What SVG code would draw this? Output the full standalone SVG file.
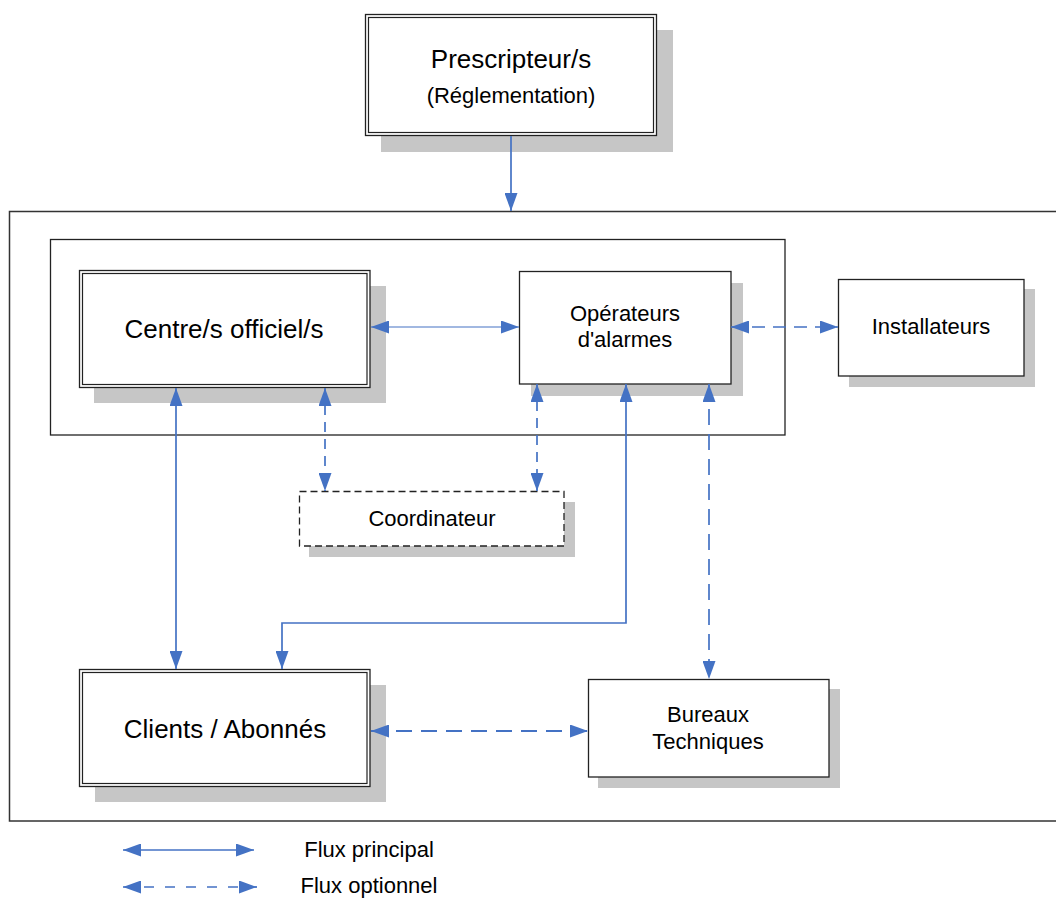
<svg xmlns="http://www.w3.org/2000/svg" width="1056" height="898" viewBox="0 0 1056 898">
<style>
  text { font-family: "Liberation Sans", Arial, sans-serif; fill: #000; text-anchor: middle; }
  .shadow { fill: #c6c6c6; stroke: none; }
  .box { fill: #fff; stroke: #222; stroke-width: 1.3; }
  .frame { fill: none; stroke: #222; stroke-width: 1.3; }
  .dbl { fill: none; stroke: #222; stroke-width: 1.2; }
  .conn { fill: none; stroke: #4472C4; stroke-width: 1.7; }
  .thin { stroke-width: 1.2; }
  .dash { stroke-dasharray: 10 7; }
  .dashL { stroke-dasharray: 16 9; }
  .dash2 { stroke-dasharray: 16 9; stroke-width: 2.2; }
  .t26 { font-size: 26px; }
  .t22 { font-size: 22px; }
</style>
<defs>
  <marker id="ae" markerUnits="userSpaceOnUse" markerWidth="18" markerHeight="13" refX="18" refY="6.5" orient="auto">
    <path d="M0,0 L18,6.5 L0,13 Z" fill="#4472C4"/>
  </marker>
  <marker id="as" markerUnits="userSpaceOnUse" markerWidth="18" markerHeight="13" refX="0" refY="6.5" orient="auto">
    <path d="M18,0 L0,6.5 L18,13 Z" fill="#4472C4"/>
  </marker>
</defs>

<g id="frames">
  <rect x="9.5" y="211.5" width="1070" height="609.5" fill="none" stroke="#333" stroke-width="1.5"/>
  <rect class="frame" x="50.5" y="239.5" width="734.5" height="195.5"/>
</g>

<g id="prescripteur">
  <rect class="shadow" x="381" y="30" width="292" height="122"/>
  <rect class="box" x="365.5" y="14.5" width="291" height="121"/>
  <rect class="dbl" x="368.5" y="17.5" width="285" height="115"/>
  <text class="t26" x="511" y="68">Prescripteur/s</text>
  <text class="t22" x="511" y="103">(Réglementation)</text>
</g>

<g id="centre">
  <rect class="shadow" x="94" y="286" width="292" height="117"/>
  <rect class="box" x="79.5" y="270.5" width="290.5" height="117"/>
  <rect class="dbl" x="82.5" y="273.5" width="284.5" height="111"/>
  <text class="t26" x="224" y="338">Centre/s officiel/s</text>
</g>

<g id="operateurs">
  <rect class="shadow" x="531" y="283" width="212" height="113"/>
  <rect class="box" x="519.5" y="271.5" width="211.5" height="112.5"/>
  <text class="t22" x="625" y="321">Opérateurs</text>
  <text class="t22" x="625" y="347">d'alarmes</text>
</g>

<g id="installateurs">
  <rect class="shadow" x="849" y="289" width="186" height="98"/>
  <rect class="box" x="838.5" y="279.5" width="185.5" height="96.5"/>
  <text class="t22" x="931" y="334">Installateurs</text>
</g>

<g id="coordinateur">
  <rect class="shadow" x="309" y="502" width="266" height="55"/>
  <rect class="box" x="299.5" y="491.5" width="264.5" height="54.5" stroke="#333" stroke-dasharray="7 4"/>
  <text class="t22" x="432" y="526">Coordinateur</text>
</g>

<g id="clients">
  <rect class="shadow" x="95" y="685" width="291" height="117"/>
  <rect class="box" x="79.5" y="669.5" width="290.5" height="117"/>
  <rect class="dbl" x="82.5" y="672.5" width="284.5" height="111"/>
  <text class="t26" x="225" y="738">Clients / Abonnés</text>
</g>

<g id="bureaux">
  <rect class="shadow" x="598" y="689" width="242" height="99"/>
  <rect class="box" x="588.5" y="679.5" width="240.5" height="97.5"/>
  <text class="t22" x="708" y="722">Bureaux</text>
  <text class="t22" x="708" y="749">Techniques</text>
</g>

<g id="connectors">
  <line class="conn" x1="511" y1="136" x2="511" y2="211" marker-end="url(#ae)"/>
  <line class="conn thin" x1="371" y1="327" x2="519" y2="327" marker-start="url(#as)" marker-end="url(#ae)"/>
  <line class="conn" x1="731" y1="327" x2="838" y2="327" stroke-dasharray="13 8" marker-start="url(#as)" marker-end="url(#ae)"/>
  <line class="conn" x1="176" y1="388" x2="176" y2="669" marker-start="url(#as)" marker-end="url(#ae)"/>
  <line class="conn dash" x1="325" y1="388" x2="325" y2="491" marker-start="url(#as)" marker-end="url(#ae)"/>
  <line class="conn dash" x1="537" y1="384" x2="537" y2="491" marker-start="url(#as)" marker-end="url(#ae)"/>
  <polyline class="conn" points="626,384 626,623 282,623 282,669" marker-start="url(#as)" marker-end="url(#ae)"/>
  <line class="conn dashL" x1="709" y1="384" x2="709" y2="679" marker-start="url(#as)" marker-end="url(#ae)"/>
  <line class="conn dash2" x1="371" y1="731" x2="588" y2="731" marker-start="url(#as)" marker-end="url(#ae)"/>
</g>

<g id="legend">
  <line class="conn" x1="123" y1="850" x2="254" y2="850" marker-start="url(#as)" marker-end="url(#ae)"/>
  <line class="conn" x1="123" y1="887" x2="257" y2="887" stroke-dasharray="10 11" marker-start="url(#as)" marker-end="url(#ae)"/>
  <text class="t22" x="369" y="857">Flux principal</text>
  <text class="t22" x="369" y="893">Flux optionnel</text>
</g>
</svg>
